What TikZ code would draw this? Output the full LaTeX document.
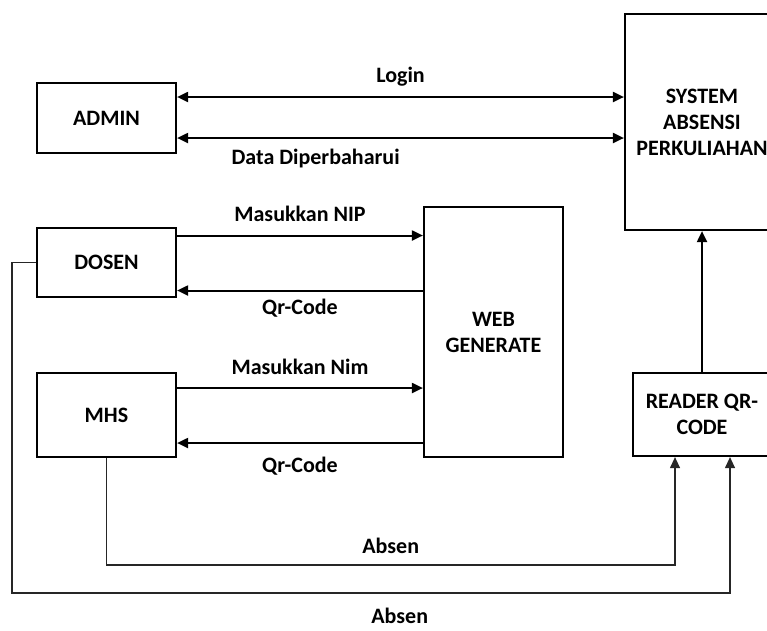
\documentclass[tikz,border=0pt]{standalone}
\usepackage{fontspec}
\setmainfont{Carlito}
\usepackage{tikz}
\usetikzlibrary{arrows.meta,positioning,calc}

\begin{document}
\begin{tikzpicture}[x=1pt, y=-1pt, font=\fontsize{22}{26}\selectfont\bfseries,
  box/.style={draw, line width=2.2pt, align=center, inner sep=0pt},
  arr/.style={-{Triangle[length=11pt,width=10pt]}, line width=2pt},
  dbl/.style={{Triangle[length=11pt,width=10pt]}-{Triangle[length=11pt,width=10pt]}, line width=2pt},
  absen/.style={-{Triangle[length=11pt,width=10pt]}, line width=1.2pt, draw=black!85}]
\useasboundingbox (0,0) rectangle (767,630);
% boxes
\node[box, minimum width=139pt, minimum height=70pt] (admin) at (106.5,118) {ADMIN};
\node[box, minimum width=139pt, minimum height=69pt] (dosen) at (106.5,262.5) {DOSEN};
\node[box, minimum width=139pt, minimum height=84pt] (mhs) at (106.5,415) {MHS};
\node[box, minimum width=139pt, minimum height=250pt] (web) at (493.5,332) {WEB\\GENERATE};
\node[box, minimum width=154pt, minimum height=216pt] (sys) at (702,122) {SYSTEM\\ABSENSI\\PERKULIAHAN};
\node[box, minimum width=138pt, minimum height=83pt] (reader) at (702,414.5) {READER QR-\\CODE};
% admin <-> system
\draw[dbl] ([yshift=21pt]admin.east) -- node[above=6pt] {Login} ([yshift=21pt]admin.east -| sys.west);
\draw[dbl] ([yshift=-20pt]admin.east) -- node[below=7pt, pos=.31] {Data Diperbaharui} ([yshift=-20pt]admin.east -| sys.west);
% dosen / mhs <-> web
\draw[arr] ([yshift=27pt]dosen.east) -- node[above=10pt] {Masukkan NIP} ([yshift=27pt]dosen.east -| web.west);
\draw[arr] ([yshift=-28pt]dosen.east -| web.west) -- node[below=4pt] {Qr-Code} ([yshift=-28pt]dosen.east);
\draw[arr] ([yshift=27pt]mhs.east) -- node[above=9pt] {Masukkan Nim} ([yshift=27pt]mhs.east -| web.west);
\draw[arr] ([yshift=-28pt]mhs.east -| web.west) -- node[below=10pt] {Qr-Code} ([yshift=-28pt]mhs.east);
% reader -> system
\draw[arr] (reader.north) -- (reader.north |- sys.south);
% absen
\coordinate (lowA) at (0,565);
\coordinate (lowB) at (12,593);
\draw[absen] (mhs.south) -- (mhs.south |- lowA) -| node[above=7pt, pos=.25] {Absen} ([xshift=-27pt]reader.south);
\draw[absen] (dosen.west) -| (lowB) -| node[below=11pt, pos=.27] {Absen} ([xshift=28pt]reader.south);
\end{tikzpicture}
\end{document}
